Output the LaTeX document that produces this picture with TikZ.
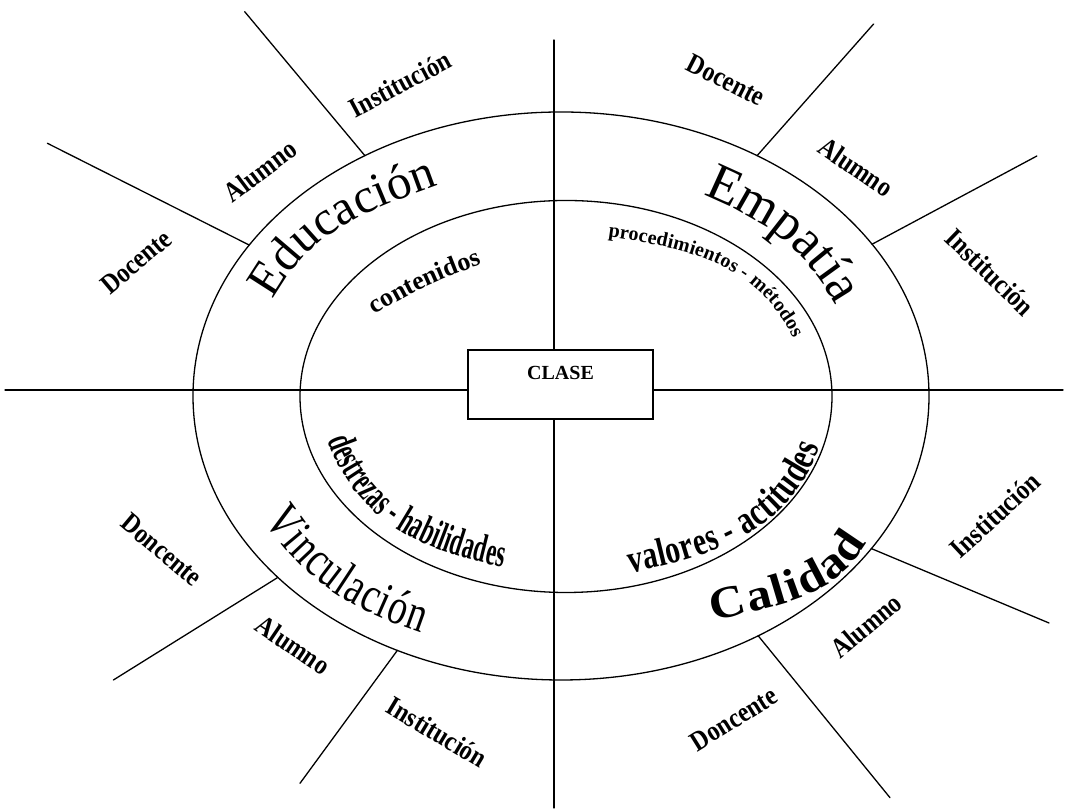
\documentclass[tikz,border=0pt]{standalone}
\usepackage{fontspec}
\setmainfont{Liberation Serif}
\newfontfamily\lblfam[FakeStretch=0.86]{Liberation Serif}
\newfontfamily\widefam[FakeStretch=1.1]{Liberation Serif}
\newfontfamily\slimfam[FakeStretch=0.74]{Liberation Serif}
\newfontfamily\narrowfam[FakeStretch=0.74]{Liberation Serif}
\newfontfamily\tightfam[FakeStretch=0.57]{Liberation Serif}
\usetikzlibrary{decorations.text}

\tikzset{
  rule/.style={line width=1.3pt, line cap=round},
  lbl/.style={font=\lblfam\bfseries\fontsize{28}{32}\selectfont, inner sep=0pt},
  ringtext/.style={decorate, decoration={text along path,
      text align={fit to path}, text={#1}}},
}

\begin{document}
\begin{tikzpicture}[x=1pt, y=1pt]
  \useasboundingbox (0,0) rectangle (1066,810);

  % the two rings
  \coordinate (oc) at (561,414);
  \coordinate (ic) at (566,413.5);
  \draw[rule] (oc) ellipse [x radius=368pt, y radius=284pt];
  \draw[rule] (ic) ellipse [x radius=266pt, y radius=196pt];

  % central box and the axes
  \node[draw, rule, minimum width=185pt, minimum height=69pt, inner sep=0pt]
       (box) at (560.5,425.5) {};
  \node[font=\bfseries\fontsize{20}{24}\selectfont, inner sep=0pt]
       (clase) at ([yshift=11.5pt]box.center) {CLASE};
  \coordinate (hL) at (5,420);
  \coordinate (hR) at (1063,420);
  \coordinate (vT) at (554,770);
  \coordinate (vB) at (554,2);
  \draw[rule] (hL) -- (hL -| box.west);
  \draw[rule] (hR) -- (hR -| box.east);
  \draw[rule] (vT) -- (vT |- box.north);
  \draw[rule] (vB) -- (vB |- box.south);

  % spokes from the outer ring
  \path (oc) ++(122.2:368pt and 284pt) coordinate (s1);
  \path (oc) ++(147.9:368pt and 284pt) coordinate (s2);
  \path (oc) ++(57.8:368pt and 284pt) coordinate (s3);
  \path (oc) ++(32.3:368pt and 284pt) coordinate (s4);
  \path (oc) ++(219.7:368pt and 284pt) coordinate (s5);
  \path (oc) ++(243.6:368pt and 284pt) coordinate (s6);
  \path (oc) ++(327.5:368pt and 284pt) coordinate (s7);
  \path (oc) ++(302.4:368pt and 284pt) coordinate (s8);
  \coordinate (e1) at (244.7,798.3);
  \coordinate (e2) at (47.4,666.7);
  \coordinate (e3) at (873.6,786);
  \coordinate (e4) at (1036.9,654);
  \coordinate (e5) at (113.4,130);
  \coordinate (e6) at (300,26.7);
  \coordinate (e7) at (1049,187);
  \coordinate (e8) at (890,12.3);
  \foreach \k in {1,...,8} { \draw[rule] (s\k) -- (e\k); }

  % outer labels
  \node[lbl, rotate=40]  (tlD) at (136,548) {Docente};
  \node[lbl, rotate=37]  (tlA) at (260,639) {Alumno};
  \node[lbl, rotate=28]  (tlI) at (400,726) {Institución};
  \node[lbl, rotate=-27] (trD) at (726,730) {Docente};
  \node[lbl, rotate=-34] (trA) at (856,643) {Alumno};
  \node[lbl, rotate=-44] (trI) at (990,538) {Institución};
  \node[lbl, rotate=-40] (blD) at (162,260) {Doncente};
  \node[lbl, rotate=-34] (blA) at (293,165) {Alumno};
  \node[lbl, rotate=-31] (blI) at (437,78)  {Institución};
  \node[lbl, rotate=43]  (brI) at (995,295) {Institución};
  \node[lbl, rotate=40]  (brA) at (866,184) {Alumno};
  \node[lbl, rotate=32]  (brD) at (734,91)  {Doncente};

  % words set along the band between the rings
  \coordinate (eduS) at (273,510);  \coordinate (eduE) at (433,623);
  \coordinate (empS) at (703,615);  \coordinate (empE) at (833,510);
  \coordinate (vinS) at (264,290);  \coordinate (vinE) at (421,177);
  \coordinate (calS) at (714,188);  \coordinate (calE) at (866,268);
  \path[ringtext={|\fontsize{49}{58}\selectfont|Educación}]
    (eduS) to[out=61, in=200] (eduE);
  \path[ringtext={|\fontsize{53}{62}\selectfont|Empatía}]
    (empS) to[out=-23, in=121] (empE);
  \path[ringtext={|\slimfam\fontsize{51}{60}\selectfont|Vinculación}]
    (vinS) to[out=-56, in=161] (vinE);
  \path[ringtext={|\widefam\bfseries\fontsize{45}{54}\selectfont|Calidad}]
    (calS) to[out=16, in=242] (calE);

  % words set inside the inner ring
  \coordinate (conS) at (375,495);  \coordinate (conE) at (480,545);
  \coordinate (proS) at (608,573);  \coordinate (proE) at (793,472);
  \coordinate (desS) at (328,370);  \coordinate (desE) at (503,243);
  \coordinate (valS) at (630,237);  \coordinate (valE) at (820,363);
  \path[ringtext={|\bfseries\fontsize{26}{30}\selectfont|contenidos}]
    (conS) to[out=32, in=200] (conE);
  \path[ringtext={|\bfseries\fontsize{20}{24}\selectfont|procedimientos - métodos}]
    (proS) to[out=-8, in=116] (proE);
  \path[ringtext={|\tightfam\bfseries\fontsize{40}{46}\selectfont|destrezas - habilidades}]
    (desS) to[out=-71, in=169] (desE);
  \path[ringtext={|\narrowfam\bfseries\fontsize{40}{46}\selectfont|valores - actitudes}]
    (valS) to[out=11, in=250] (valE);
\end{tikzpicture}
\end{document}
